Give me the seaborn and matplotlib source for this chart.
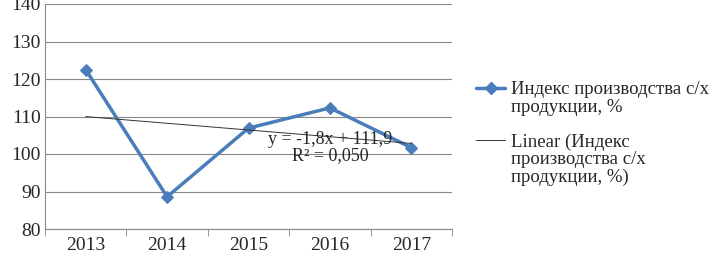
import numpy as np
import pandas as pd
import seaborn as sns
import matplotlib.pyplot as plt
from matplotlib.lines import Line2D
from matplotlib.ticker import FixedLocator

# Data
years = ['2013', '2014', '2015', '2016', '2017']
index_values = [122.5, 88.6, 106.9, 112.3, 101.7]
series_label = ['Индекс производства с/х', 'продукции, %']
trend_label = ['Linear (Индекс', 'производства с/х', 'продукции, %)']
trend_eq = 'y = -1,8x + 111,9'
trend_r2 = 'R² = 0,050'

df = pd.DataFrame({'pos': np.arange(len(years)), 'value': index_values})

# Linear trend on 1..n like Excel
xs = np.arange(1, len(years) + 1)
slope, intercept = np.polyfit(xs, index_values, 1)
df['trend'] = slope * xs + intercept

sns.set_style('white')
plt.rcParams['font.family'] = ['Liberation Serif', 'DejaVu Serif']

blue = '#4A7EBB'
fig = plt.figure(figsize=(7.13, 2.54), dpi=100)
ax = fig.add_axes([45 / 713, 25 / 254, 407 / 713, 225 / 254])

sns.lineplot(data=df, x='pos', y='value', ax=ax, color=blue, linewidth=2.5,
             marker='D', markersize=6, markeredgecolor=blue, legend=False)
sns.lineplot(data=df, x='pos', y='trend', ax=ax, color='#333333', linewidth=0.7,
             legend=False)

ax.set_xlim(-0.5, len(years) - 0.5)
ax.set_ylim(80, 140)
ax.set_yticks(range(80, 141, 10))
ax.set_xticks(range(len(years)))
ax.set_xticklabels(years)
ax.xaxis.set_minor_locator(FixedLocator(np.arange(-0.5, len(years), 1)))
ax.tick_params(axis='x', which='major', length=0, labelsize=14, pad=6)
ax.tick_params(axis='x', which='minor', length=5, color='#888888', direction='out', bottom=True)
ax.tick_params(axis='y', length=0, labelsize=14, pad=3)
ax.set_xlabel('')
ax.set_ylabel('')
ax.grid(axis='y', color='#888888', linewidth=0.8)
for side in ['top', 'right']:
    ax.spines[side].set_visible(False)
for side in ['left', 'bottom']:
    ax.spines[side].set_color('#888888')
    ax.spines[side].set_linewidth(0.8)

ax.text(3.0, 103.8, trend_eq, fontsize=13, ha='center', va='center')
ax.text(3.0, 99.5, trend_r2, fontsize=13, ha='center', va='center')

# Legend: handle next to the first line of each entry
blank = Line2D([], [], linestyle='none')
h_series = Line2D([], [], color=blue, linewidth=2.5, marker='D', markersize=6)
h_trend = Line2D([], [], color='#333333', linewidth=0.7)
handles = [h_series, blank, blank, h_trend, blank, blank]
labels = [series_label[0], series_label[1], 'Ag', trend_label[0], trend_label[1], trend_label[2]]
leg = fig.legend(handles, labels, loc='upper left', bbox_to_anchor=(476 / 713, 1 - 81 / 254),
                 frameon=False, fontsize=13.5, handlelength=1.55, handletextpad=0.32,
                 labelspacing=0.02, borderpad=0, borderaxespad=0)
leg.get_texts()[2].set_color('none')

plt.savefig('out.png', dpi=100)
